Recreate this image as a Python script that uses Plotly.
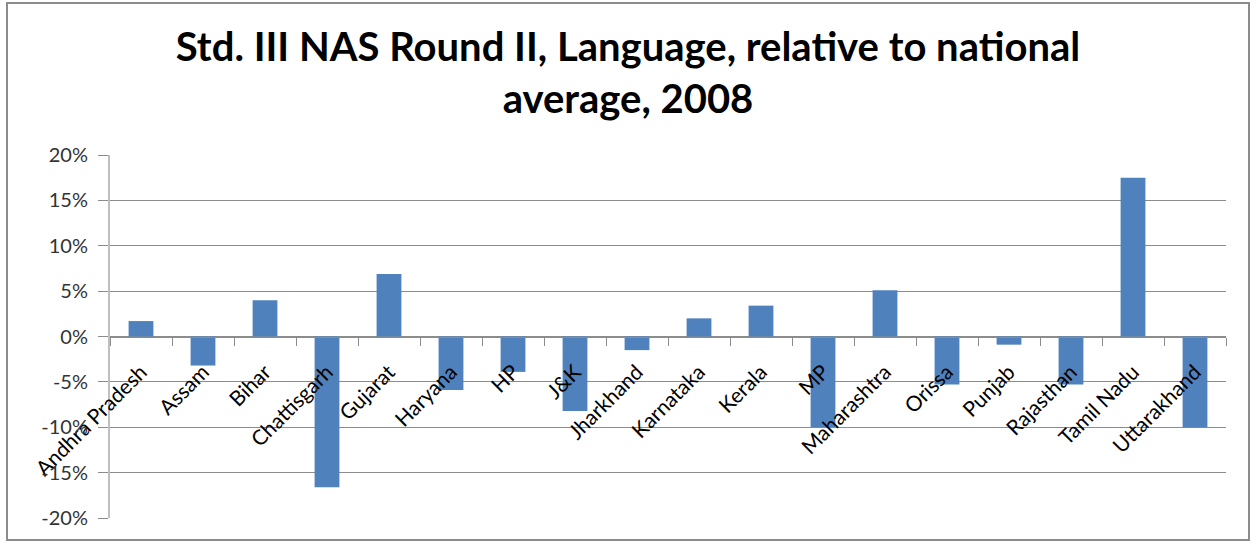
import plotly.graph_objects as go

states = ["Andhra Pradesh", "Assam", "Bihar", "Chattisgarh", "Gujarat", "Haryana", "HP", "J&K",
          "Jharkhand", "Karnataka", "Kerala", "MP", "Maharashtra", "Orissa", "Punjab",
          "Rajasthan", "Tamil Nadu", "Uttarakhand"]
relative = [0.017, -0.032, 0.040, -0.166, 0.069, -0.059, -0.039, -0.082,
            -0.015, 0.020, 0.034, -0.100, 0.051, -0.053, -0.009,
            -0.053, 0.175, -0.100]
y_ticks = [-0.20, -0.15, -0.10, -0.05, 0.0, 0.05, 0.10, 0.15, 0.20]
y_labels = ["-20%", "-15%", "-10%", "-5%", "0%", "5%", "10%", "15%", "20%"]

FONT = "Lato, 'Open Sans', sans-serif"

fig = go.Figure(go.Bar(x=states, y=relative, marker=dict(color="#4F81BD", line=dict(width=0))))

L, R, T, B = 110, 25, 155, 27
W, H = 1251, 545
pw, ph = W - L - R, H - T - B

def px(x):
    return (x - L) / pw

def py(y):
    return (H - B - y) / ph

fig.update_layout(
    width=W, height=H,
    margin=dict(l=L, r=R, t=T, b=B),
    paper_bgcolor="white", plot_bgcolor="white",
    bargap=0.6,
    showlegend=False,
    title=dict(text="<b>Std. III NAS Round II, Language, relative to national<br>average, 2008</b>",
               x=628 / W, xanchor="center", y=1 - 61 / H, yanchor="middle",
               xref="container", yref="container",
               font=dict(family=FONT, size=40, color="black")),
    shapes=[dict(type="rect", xref="paper", yref="paper",
                 x0=px(7), x1=px(1249), y0=py(540), y1=py(3),
                 line=dict(color="#8C8C8C", width=2), fillcolor="rgba(0,0,0,0)", layer="below")],
)

fig.update_yaxes(range=[-0.20, 0.20], tickvals=y_ticks, ticktext=y_labels,
                 showgrid=True, gridcolor="#8C8C8C", gridwidth=1,
                 zeroline=False, showline=True, linecolor="#BFBFBF", linewidth=2,
                 ticks="outside", ticklen=10, tickcolor="#8C8C8C",
                 ticklabelstandoff=6,
                 tickfont=dict(family=FONT, size=20, color="#333333"))
fig.update_xaxes(anchor="free", position=0.5, showline=True, linecolor="#8C8C8C", linewidth=1,
                 tickson="boundaries", ticks="outside", ticklen=8, tickcolor="#8C8C8C",
                 tickangle=-45, showgrid=False, ticklabelstandoff=14,
                 tickfont=dict(family=FONT, size=21, color="black"))

fig.write_html("out.html")
